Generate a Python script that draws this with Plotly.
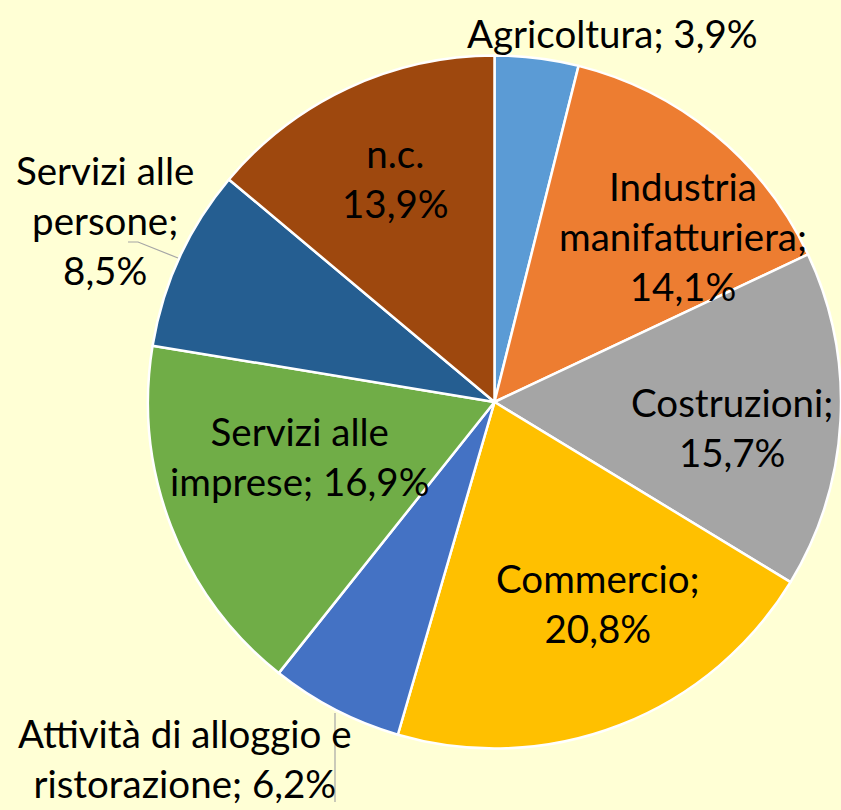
import plotly.graph_objects as go

labels = ["Agricoltura", "Industria manifatturiera", "Costruzioni", "Commercio",
          "Attività di alloggio e ristorazione", "Servizi alle imprese",
          "Servizi alle persone", "n.c."]
values = [3.9, 14.1, 15.7, 20.8, 6.2, 16.9, 8.5, 13.9]
colors = ["#5B9BD5", "#ED7D31", "#A5A5A5", "#FFC000", "#4472C4", "#70AD47", "#255E91", "#9E480E"]

# label text (as displayed) and label centres in pixels
label_texts = ["Agricoltura; 3,9%",
               "Industria<br>manifatturiera;<br>14,1%",
               "Costruzioni;<br>15,7%",
               "Commercio;<br>20,8%",
               "Attività di alloggio e<br>ristorazione; 6,2%",
               "Servizi alle<br>imprese; 16,9%",
               "Servizi alle<br>persone;<br>8,5%",
               "n.c.<br>13,9%"]
label_px = [(612, 33), (683, 236), (732, 427), (598, 603),
            (185, 758), (300, 456), (105, 220), (395, 178)]

W, H = 841, 810
BG = "#FFFFD5"
FONT = "Lato"
FS = 38.5

fig = go.Figure()
fig.add_trace(go.Pie(
    labels=labels, values=values, sort=False, direction="clockwise", rotation=0,
    marker=dict(colors=colors, line=dict(color="white", width=2.5)),
    textinfo="none", hoverinfo="label+percent", showlegend=False,
    domain=dict(x=[148 / W, 1.0], y=[1 - 749 / H, 1 - 55 / H]),
))

for t, (px, py) in zip(label_texts, label_px):
    fig.add_annotation(x=px / W, y=1 - py / H, xref="paper", yref="paper",
                       text=t, showarrow=False, xanchor="center", yanchor="middle",
                       align="center", borderpad=0,
                       font=dict(family=FONT, size=FS, color="black"))

# leader lines
fig.add_shape(type="path", xref="paper", yref="paper",
              path=f"M {128/W},{1-242/H} L {138/W},{1-242/H} L {178/W},{1-258/H}",
              line=dict(color="#A6A6A6", width=1.2))
fig.add_shape(type="line", xref="paper", yref="paper",
              x0=335 / W, y0=1 - 713 / H, x1=335 / W, y1=1 - 802 / H,
              line=dict(color="#A6A6A6", width=1.2))

fig.update_layout(width=W, height=H, margin=dict(l=0, r=0, t=0, b=0),
                  paper_bgcolor=BG, plot_bgcolor=BG)
fig.write_html("out.html", config={"displayModeBar": False},
               post_script="document.body.style.margin='0';document.body.style.overflow='hidden';"
                           "document.body.style.background='" + BG + "';")
